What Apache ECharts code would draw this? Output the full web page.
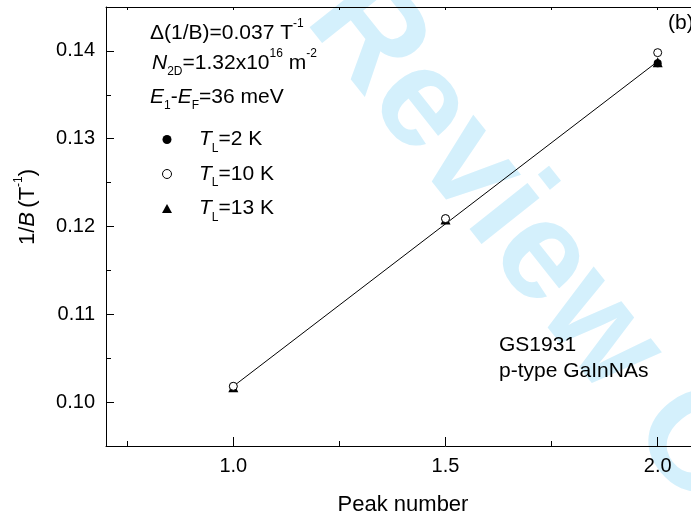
<!DOCTYPE html>
<html>
<head>
<meta charset="utf-8">
<script src="https://cdn.jsdelivr.net/npm/echarts@6/dist/echarts.min.js"></script>
<style>
  html, body { margin: 0; padding: 0; background: #ffffff; overflow: hidden; width: 691px; height: 518px; }
  /* the plot frame runs on past the right edge of the page */
  #chart { width: 785px; height: 518px; }
</style>
</head>
<body>
<div id="chart"></div>
<script>
// Peak positions in inverse field for three lattice temperatures
const peakNumbers = [1.0, 1.5, 2.0];
const invB_2K = [0.1018, 0.1209, 0.1386];
const invB_10K = [0.1018, 0.1209, 0.1398];
const invB_13K = [0.1017, 0.1208, 0.1387];

// Linear fit through the peaks (slope = Δ(1/B))
const fitX = [1.0, 2.0];
const fitY = [0.1018, 0.1388];

// Tick positions
const xMajorTicks = [1.0, 1.5, 2.0];
const xMinorTicks = [0.75, 1.25, 1.75, 2.25];
const yMajorTicks = [0.10, 0.11, 0.12, 0.13, 0.14];
const yMinorTicks = [0.105, 0.115, 0.125, 0.135];

const legendLabels = { T2: '=2 K', T10: '=10 K', T13: '=13 K' };

const FONT = "'Liberation Sans', Arial, Helvetica, sans-serif";
const INK = '#000000';

const richStyles = {
  n:   { fontFamily: FONT, fontSize: 21, color: INK, lineHeight: 30, verticalAlign: 'middle' },
  i:   { fontFamily: FONT, fontSize: 21, color: INK, lineHeight: 30, fontStyle: 'italic', verticalAlign: 'middle' },
  sub: { fontFamily: FONT, fontSize: 12, color: INK, lineHeight: 12, verticalAlign: 'bottom' },
  sup: { fontFamily: FONT, fontSize: 12, color: INK, lineHeight: 18, verticalAlign: 'top' },
  gap: { width: 22, lineHeight: 30 }
};

const pairs = ys => peakNumbers.map((x, k) => [x, ys[k]]);

const chart = echarts.init(document.getElementById('chart'), null, { renderer: 'canvas' });

const X_MIN = 0.7, X_MAX = 2.3;
const Y_MIN = 0.095, Y_MAX = 0.145;

function valueAxis(extra) {
  return Object.assign({
    type: 'value',
    gridIndex: 0,
    splitLine: { show: false },
    axisLine: { show: true, onZero: false, lineStyle: { color: INK, width: 1 } }
  }, extra);
}

const option = {
  backgroundColor: '#ffffff',
  animation: false,
  grid: { left: 106, top: 7, right: 0, bottom: 72 },
  xAxis: [
    valueAxis({
      position: 'bottom', min: X_MIN, max: X_MAX,
      axisTick: { inside: true, length: 9, customValues: xMajorTicks, lineStyle: { color: INK } },
      axisLabel: {
        customValues: xMajorTicks, fontFamily: FONT, fontSize: 20, color: INK, margin: 10,
        formatter: v => v.toFixed(1)
      }
    }),
    valueAxis({
      position: 'bottom', min: X_MIN, max: X_MAX,
      axisLine: { show: false },
      axisTick: { inside: true, length: 5, customValues: xMinorTicks, lineStyle: { color: INK } },
      axisLabel: { show: false }
    }),
    valueAxis({
      position: 'top', min: X_MIN, max: X_MAX,
      axisTick: { inside: true, length: 3, customValues: xMajorTicks.concat(xMinorTicks), lineStyle: { color: INK } },
      axisLabel: { show: false }
    })
  ],
  yAxis: [
    valueAxis({
      position: 'left', min: Y_MIN, max: Y_MAX,
      axisTick: { inside: true, length: 8, customValues: yMajorTicks, lineStyle: { color: INK } },
      axisLabel: {
        customValues: yMajorTicks, fontFamily: FONT, fontSize: 20, color: INK, margin: 11,
        formatter: v => v.toFixed(2)
      }
    }),
    valueAxis({
      position: 'left', min: Y_MIN, max: Y_MAX,
      axisLine: { show: false },
      axisTick: { inside: true, length: 5, customValues: yMinorTicks, lineStyle: { color: INK } },
      axisLabel: { show: false }
    }),
    valueAxis({
      position: 'right', min: Y_MIN, max: Y_MAX,
      axisTick: { show: false },
      axisLabel: { show: false }
    })
  ],
  legend: {
    orient: 'vertical',
    left: 162,
    top: 129,
    padding: 0,
    itemGap: 9,
    itemWidth: 10,
    itemHeight: 9,
    symbolKeepAspect: true,
    selectedMode: false,
    data: [
      { name: 'T2', icon: 'circle', itemStyle: { color: INK, borderWidth: 0, opacity: 1 } },
      { name: 'T10', icon: 'circle', itemStyle: { color: '#ffffff', borderColor: INK, borderWidth: 1, opacity: 1 } },
      { name: 'T13', icon: 'triangle', itemStyle: { color: INK, borderWidth: 0, opacity: 1 } }
    ],
    formatter: name => `{gap|}{i|T}{sub|L}{n|${legendLabels[name]}}`,
    textStyle: { fontFamily: FONT, fontSize: 21, color: INK, rich: richStyles }
  },
  series: [
    {
      name: 'fit', type: 'line', xAxisIndex: 0, yAxisIndex: 0,
      data: fitX.map((x, k) => [x, fitY[k]]),
      showSymbol: false, symbol: 'none', silent: true,
      lineStyle: { color: INK, width: 1 }, z: 2
    },
    {
      name: 'T13', type: 'scatter', xAxisIndex: 0, yAxisIndex: 0,
      data: pairs(invB_13K), symbol: 'triangle', symbolSize: 10,
      itemStyle: { color: INK, opacity: 1 }, z: 3
    },
    {
      name: 'T2', type: 'scatter', xAxisIndex: 0, yAxisIndex: 0,
      data: pairs(invB_2K), symbol: 'circle', symbolSize: 8,
      itemStyle: { color: INK, opacity: 1 }, z: 4
    },
    {
      name: 'T10', type: 'scatter', xAxisIndex: 0, yAxisIndex: 0,
      data: pairs(invB_10K), symbol: 'circle', symbolSize: 8,
      itemStyle: { color: '#ffffff', borderColor: INK, borderWidth: 1, opacity: 1 }, z: 5
    }
  ],
  graphic: [
    // "Review Only" stamp behind the plot
    {
      type: 'text', x: 334, y: -4, rotation: -0.9, z: -10, silent: true,
      style: {
        text: 'Review Only', fill: '#d4f0fc',
        font: `bold 140px ${FONT}`, align: 'left', verticalAlign: 'middle'
      }
    },
    {
      type: 'text', x: 150, y: 33, z: 10,
      style: { text: '{n|Δ(1/B)=0.037 T}{sup|-1}', rich: richStyles, align: 'left', verticalAlign: 'middle' }
    },
    {
      type: 'text', x: 152, y: 63, z: 10,
      style: { text: '{i|N}{sub|2D}{n|=1.32x10}{sup|16}{n| m}{sup|-2}', rich: richStyles, align: 'left', verticalAlign: 'middle' }
    },
    {
      type: 'text', x: 150, y: 97, z: 10,
      style: { text: '{i|E}{sub|1}{n|-}{i|E}{sub|F}{n|=36 meV}', rich: richStyles, align: 'left', verticalAlign: 'middle' }
    },
    {
      type: 'text', x: 668, y: 23, z: 10,
      style: { text: '(b)', font: `21px ${FONT}`, fill: INK, align: 'left', verticalAlign: 'middle' }
    },
    {
      type: 'text', x: 499, y: 345, z: 10,
      style: { text: 'GS1931', font: `21px ${FONT}`, fill: INK, align: 'left', verticalAlign: 'middle' }
    },
    {
      type: 'text', x: 499, y: 371, z: 10,
      style: { text: 'p-type GaInNAs', font: `21px ${FONT}`, fill: INK, align: 'left', verticalAlign: 'middle' }
    },
    {
      type: 'text', x: 403, y: 505, z: 10,
      style: { text: 'Peak number', font: `22px ${FONT}`, fill: INK, align: 'center', verticalAlign: 'middle' }
    },
    {
      type: 'text', x: 28, y: 207, rotation: Math.PI / 2, z: 10,
      style: {
        text: '{n|1/}{i|B}{n|\u2009(T}{sup|-1}{n|)}',
        rich: {
          n: { fontFamily: FONT, fontSize: 22, color: INK, lineHeight: 30, verticalAlign: 'middle' },
          i: { fontFamily: FONT, fontSize: 22, color: INK, lineHeight: 30, fontStyle: 'italic', verticalAlign: 'middle' },
          sup: { fontFamily: FONT, fontSize: 12, color: INK, lineHeight: 18, verticalAlign: 'top' }
        },
        align: 'center', verticalAlign: 'middle'
      }
    }
  ]
};

chart.setOption(option);
</script>
</body>
</html>
